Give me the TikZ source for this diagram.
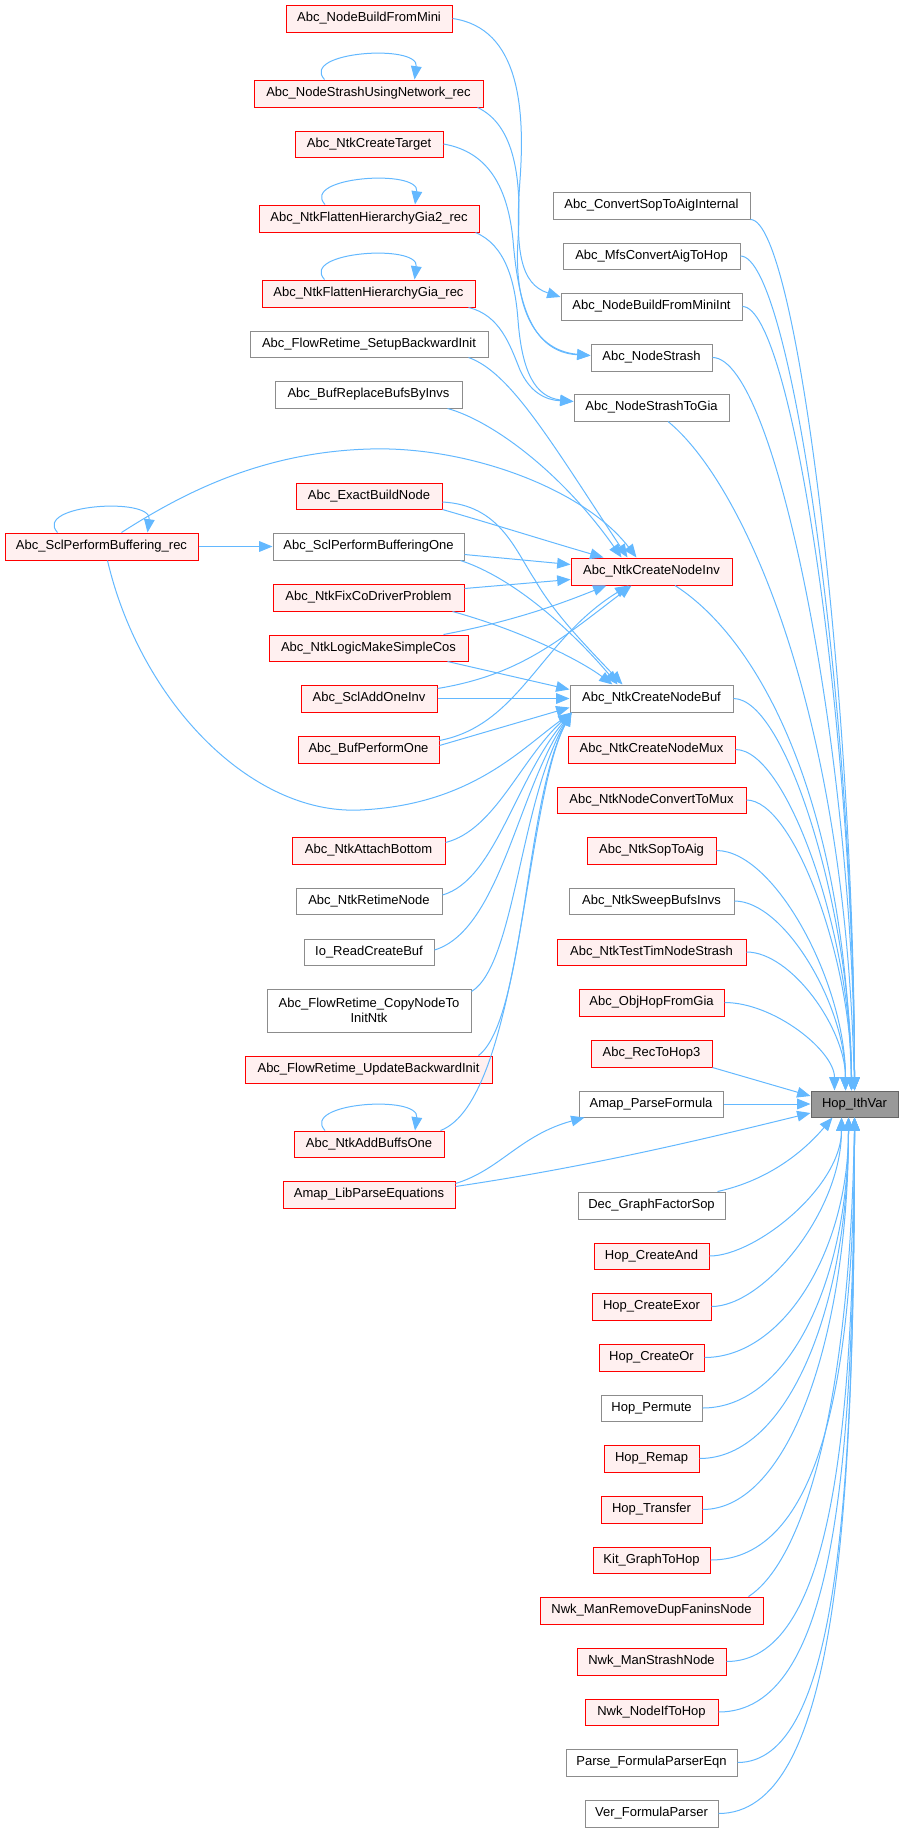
\documentclass[tikz,border=0pt]{standalone}
\usepackage{fontspec}
\setmainfont{Liberation Sans}
\usetikzlibrary{arrows.meta,calc}
\definecolor{edgec}{HTML}{63B8FF}
\definecolor{redfill}{HTML}{FFF0F0}
\definecolor{grayb}{HTML}{8C8C8C}
\definecolor{rootfill}{HTML}{999999}
\definecolor{rootb}{HTML}{666666}
\newcommand\gn[7]{\node[#1, minimum width={(#5-#3)*0.75pt}, minimum height={(#6-#4)*0.75pt}] (#2) at ({(#3+#5)/2},{(#4+#6)/2}) {#7};}
\newcommand\selfloop[1]{\draw[conn] ($(#1.north)+(-44,0)$) .. controls ($(#1.north)+(-69,-28)$) and ($(#1.north)+(51,-36)$) .. ($(#1.north)+(46,0)$);}
\tikzset{
 box/.style={rectangle, inner sep=0pt, line width=0.75pt, font={\fontsize{9.75pt}{11.25pt}\selectfont}, text=black, align=center},
 rbox/.style={box, draw=red, fill=redfill},
 gbox/.style={box, draw=grayb, fill=white},
 root/.style={box, draw=rootb, fill=rootfill},
 conn/.style={draw=edgec, line width=0.75pt, -{Triangle[length=10pt,width=8pt]}},
 hc/.style 2 args={to path={.. controls ($(\tikztostart)!#1!(\tikztostart -| \tikztotarget)$) and ($(\tikztotarget)!#2!(\tikztotarget |- \tikztostart)$) .. (\tikztotarget)}},
}
\begin{document}
\begin{tikzpicture}[x=0.75pt,y=-0.75pt]
\useasboundingbox (0,0) rectangle (903,1832);
% left column
\gn{rbox}{bfm}{286}{5}{452}{32}{Abc\_NodeBuildFromMini}
\gn{rbox}{nsun}{254}{80}{483}{107}{Abc\_NodeStrashUsingNetwork\_rec}
\gn{rbox}{nct}{295}{131}{443}{157}{Abc\_NtkCreateTarget}
\gn{rbox}{fg2}{259}{205}{479}{232}{Abc\_NtkFlattenHierarchyGia2\_rec}
\gn{rbox}{fg}{262}{280}{475}{307}{Abc\_NtkFlattenHierarchyGia\_rec}
\gn{gbox}{frsb}{250}{331}{488}{357}{Abc\_FlowRetime\_SetupBackwardInit}
\gn{gbox}{brbi}{275}{381}{462}{408}{Abc\_BufReplaceBufsByInvs}
\gn{rbox}{sclrec}{5}{533}{198}{560}{Abc\_SclPerformBuffering\_rec}
\gn{rbox}{ebn}{296}{483}{442}{509}{Abc\_ExactBuildNode}
\gn{gbox}{sclone}{273}{533}{464}{560}{Abc\_SclPerformBufferingOne}
\gn{rbox}{fcdp}{273}{584}{464}{611}{Abc\_NtkFixCoDriverProblem}
\gn{rbox}{lmsc}{269}{635}{468}{661}{Abc\_NtkLogicMakeSimpleCos}
\gn{rbox}{saoi}{301}{685}{437}{712}{Abc\_SclAddOneInv}
\gn{rbox}{bpo}{298}{736}{439}{763}{Abc\_BufPerformOne}
\gn{rbox}{nab}{292}{837}{445}{864}{Abc\_NtkAttachBottom}
\gn{gbox}{nrn}{296}{888}{442}{914}{Abc\_NtkRetimeNode}
\gn{gbox}{ircb}{304}{939}{434}{965}{Io\_ReadCreateBuf}
\gn{gbox}{frcn}{267}{989}{471}{1032}{Abc\_FlowRetime\_CopyNodeTo\\InitNtk}
\gn{rbox}{frub}{245}{1056}{492}{1083}{Abc\_FlowRetime\_UpdateBackwardInit}
\gn{rbox}{nabo}{294}{1131}{444}{1157}{Abc\_NtkAddBuffsOne}
\gn{rbox}{alpe}{283}{1181}{455}{1208}{Amap\_LibParseEquations}
% middle column
\gn{gbox}{csai}{553}{192}{750}{219}{Abc\_ConvertSopToAigInternal}
\gn{gbox}{mfs}{563}{243}{740}{269}{Abc\_MfsConvertAigToHop}
\gn{gbox}{bfmi}{561}{293}{742}{320}{Abc\_NodeBuildFromMiniInt}
\gn{gbox}{ns}{591}{344}{712}{371}{Abc\_NodeStrash}
\gn{gbox}{nsg}{574}{394}{729}{421}{Abc\_NodeStrashToGia}
\gn{rbox}{inv}{571}{558}{732}{585}{Abc\_NtkCreateNodeInv}
\gn{gbox}{buf}{570}{685}{733}{712}{Abc\_NtkCreateNodeBuf}
\gn{rbox}{mux}{568}{736}{735}{763}{Abc\_NtkCreateNodeMux}
\gn{rbox}{ctm}{557}{787}{746}{813}{Abc\_NtkNodeConvertToMux}
\gn{rbox}{sta}{587}{837}{716}{864}{Abc\_NtkSopToAig}
\gn{gbox}{sbi}{569}{888}{734}{914}{Abc\_NtkSweepBufsInvs}
\gn{rbox}{tts}{557}{939}{746}{965}{Abc\_NtkTestTimNodeStrash}
\gn{rbox}{ohg}{579}{989}{724}{1016}{Abc\_ObjHopFromGia}
\gn{rbox}{rec}{591}{1040}{712}{1067}{Abc\_RecToHop3}
\gn{gbox}{apf}{579}{1091}{723}{1117}{Amap\_ParseFormula}
\gn{root}{hop}{811}{1091}{898}{1117}{Hop\_IthVar}
\gn{gbox}{dec}{578}{1192}{725}{1219}{Dec\_GraphFactorSop}
\gn{rbox}{cand}{594}{1243}{709}{1269}{Hop\_CreateAnd}
\gn{rbox}{cexo}{592}{1293}{711}{1320}{Hop\_CreateExor}
\gn{rbox}{cor}{599}{1344}{704}{1371}{Hop\_CreateOr}
\gn{gbox}{perm}{601}{1395}{702}{1421}{Hop\_Permute}
\gn{rbox}{remap}{604}{1445}{699}{1472}{Hop\_Remap}
\gn{rbox}{trans}{601}{1496}{702}{1523}{Hop\_Transfer}
\gn{rbox}{kit}{593}{1547}{710}{1573}{Kit\_GraphToHop}
\gn{rbox}{nwkrem}{540}{1597}{763}{1624}{Nwk\_ManRemoveDupFaninsNode}
\gn{rbox}{nwkstr}{577}{1648}{726}{1675}{Nwk\_ManStrashNode}
\gn{rbox}{nwkif}{585}{1699}{718}{1725}{Nwk\_NodeIfToHop}
\gn{gbox}{pfpe}{566}{1749}{737}{1776}{Parse\_FormulaParserEqn}
\gn{gbox}{vfp}{585}{1800}{718}{1827}{Ver\_FormulaParser}
% self loops
\selfloop{nsun}
\selfloop{fg2}
\selfloop{fg}
\selfloop{sclrec}
\selfloop{nabo}
% top-left connectors
\draw[conn] (bfm.east) .. controls (520,28) and (525,110) .. (520,180) .. controls (515,250) and (520,284) .. ($(bfmi.west)+(0,-9.5)$);
\draw[conn] ($(nsun.south east)+(-6,0)$) .. controls (515,125) and (522,180) .. (518,240) .. controls (514,300) and (530,350) .. ($(ns.west)+(0,-2)$);
\draw[conn] (nct.east) .. controls (490,152) and (508,190) .. (513,240) .. controls (518,300) and (530,352) .. ($(ns.west)+(0,-2)$);
\draw[conn] ($(fg2.south east)+(-4,0)$) .. controls (505,245) and (515,280) .. (518,320) .. controls (522,372) and (535,397) .. ($(nsg.west)+(0,-6)$);
\draw[conn] ($(fg.south east)+(-7,0)$) .. controls (500,315) and (510,345) .. (520,370) .. controls (530,392) and (545,400) .. ($(nsg.west)+(0,-6)$);
% into Abc_NtkCreateNodeInv
\draw[conn] ($(frsb.south east)+(-20,0)$) .. controls (510,372) and (550,440) .. ($(inv.north)+(-24,0)$);
\draw[conn] ($(brbi.south east)+(-15,0)$) .. controls (490,420) and (560,470) .. ($(inv.north)+(-30,0)$);
\draw[conn] ($(sclrec.north)+(20,0)$) .. controls (180,495) and (260,452) .. (370,449) .. controls (470,446) and (585,490) .. ($(inv.north)+(-15,0)$);
\draw[conn] (ebn.south east) .. controls (496,525) and (550,542) .. ($(inv.north)+(-48,0)$);
\draw[conn] ($(sclone.east)+(0,8)$) -- ($(inv.west)+(0,-7)$);
\draw[conn] ($(fcdp.east)+(0,-9)$) -- ($(inv.west)+(0,8)$);
\draw[conn] ($(lmsc.north east)+(-25,0)$) .. controls (520,620) and (570,600) .. ($(inv.south)+(-45,0)$);
\draw[conn] ($(saoi.east)+(0,-10)$) .. controls (520,675) and (560,640) .. ($(inv.south)+(-20,0)$);
\draw[conn] ($(bpo.east)+(0,-9)$) .. controls (520,725) and (540,640) .. ($(inv.south)+(-23,0)$);
% into Abc_NtkCreateNodeBuf
\draw[conn] ($(ebn.east)+(0,6)$) .. controls (500,505) and (515,550) .. (535,580) .. controls (555,615) and (590,650) .. ($(buf.north)+(-29,0)$);
\draw[conn] ($(sclone.south east)+(-4,0)$) .. controls (520,580) and (580,640) .. ($(buf.north)+(-34,0)$);
\draw[conn] ($(fcdp.south east)+(-12,0)$) .. controls (520,630) and (580,660) .. ($(buf.north)+(-39,0)$);
\draw[conn] ($(lmsc.south east)+(-21,0)$) -- ($(buf.west)+(0,-9)$);
\draw[conn] (saoi.east) -- (buf.west);
\draw[conn] ($(bpo.east)+(0,-4)$) -- ($(buf.west)+(0,9)$);
\draw[conn] ($(sclrec.south)+(6,0)$) .. controls (140,700) and (250,815) .. (360,810) .. controls (470,805) and (520,750) .. ($(buf.south west)+(2,0)$);
\draw[conn] ($(nab.east)+(0,-8)$) .. controls (495,830) and (520,760) .. ($(buf.south west)+(2,0)$);
\draw[conn] ($(nrn.east)+(0,-6)$) .. controls (495,880) and (515,780) .. ($(buf.south west)+(2,0)$);
\draw[conn] ($(ircb.east)+(0,-2)$) .. controls (500,930) and (518,790) .. ($(buf.south west)+(2,0)$);
\draw[conn] ($(frcn.north east)+(0,3)$) .. controls (515,965) and (520,800) .. ($(buf.south west)+(2,0)$);
\draw[conn] ($(frub.north east)+(-14,0)$) .. controls (525,1020) and (525,800) .. ($(buf.south west)+(2,0)$);
\draw[conn] ($(nabo.north east)+(-4,0)$) .. controls (520,1100) and (525,800) .. ($(buf.south west)+(2,0)$);
% misc
\draw[conn] (sclrec.east) -- (sclone.west);
\draw[conn] ($(alpe.north east)+(0,3)$) .. controls (500,1170) and (520,1135) .. ($(apf.south west)+(6,0)$);
\draw[conn] ($(alpe.east)+(0,-8)$) .. controls (600,1165) and (720,1135) .. ($(hop.west)+(0,9)$);
\draw[conn] (apf.east) -- (hop.west);
\draw[conn] (rec.south east) -- ($(hop.west)+(0,-8)$);
% arrival points on Hop_IthVar
\coordinate (tA) at ($(hop.north west)+(44,0)$);
\coordinate (tB) at ($(hop.north west)+(41,0)$);
\coordinate (tC) at ($(hop.north west)+(35,0)$);
\coordinate (tD) at ($(hop.north west)+(24,0)$);
\coordinate (bA) at ($(hop.south west)+(44,0)$);
\coordinate (bB) at ($(hop.south west)+(38,0)$);
\coordinate (bC) at ($(hop.south west)+(31,0)$);
\coordinate (bD) at ($(hop.south west)+(22,0)$);
% into Hop_IthVar from above
\draw[conn] (csai.south east) to[hc={0.45}{0.45}] (tA);
\draw[conn] (mfs.east) to[hc={0.45}{0.45}] (tA);
\draw[conn] (bfmi.east) to[hc={0.45}{0.45}] (tA);
\draw[conn] (ns.east) to[hc={0.45}{0.45}] (tA);
\draw[conn] ($(nsg.south)+(16.5,0)$) .. controls (740,480) and (845,700) .. (tA);
\draw[conn] ($(inv.south)+(23.5,0)$) .. controls (760,640) and (845,800) .. (tB);
\draw[conn] (buf.east) to[hc={0.45}{0.45}] (tB);
\draw[conn] (mux.east) to[hc={0.45}{0.45}] (tB);
\draw[conn] (ctm.east) to[hc={0.45}{0.45}] (tB);
\draw[conn] (sta.east) to[hc={0.45}{0.45}] (tC);
\draw[conn] (sbi.east) to[hc={0.45}{0.45}] (tC);
\draw[conn] (tts.east) to[hc={0.45}{0.45}] (tC);
\draw[conn] (ohg.east) to[hc={0.45}{0.45}] (tD);
% into Hop_IthVar from below
\draw[conn] ($(dec.north east)+(-8,0)$) .. controls (770,1180) and (805,1150) .. (bD);
\draw[conn] (cand.east) to[hc={0.35}{0.5}] (bC);
\draw[conn] (cexo.east) to[hc={0.4}{0.5}] (bC);
\draw[conn] (cor.east) to[hc={0.55}{0.55}] (bB);
\draw[conn] (perm.east) to[hc={0.6}{0.55}] (bB);
\draw[conn] (remap.east) to[hc={0.6}{0.55}] (bB);
\draw[conn] (trans.east) to[hc={0.6}{0.55}] (bB);
\draw[conn] (kit.east) to[hc={0.75}{0.6}] (bA);
\draw[conn] ($(nwkrem.north east)+(-15,0)$) .. controls (805,1560) and (850,1400) .. (bA);
\draw[conn] (nwkstr.east) to[hc={0.8}{0.6}] (bA);
\draw[conn] (nwkif.east) to[hc={0.85}{0.6}] (bA);
\draw[conn] (pfpe.east) to[hc={0.85}{0.6}] (bA);
\draw[conn] (vfp.east) to[hc={0.85}{0.6}] (bA);
\end{tikzpicture}
\end{document}
